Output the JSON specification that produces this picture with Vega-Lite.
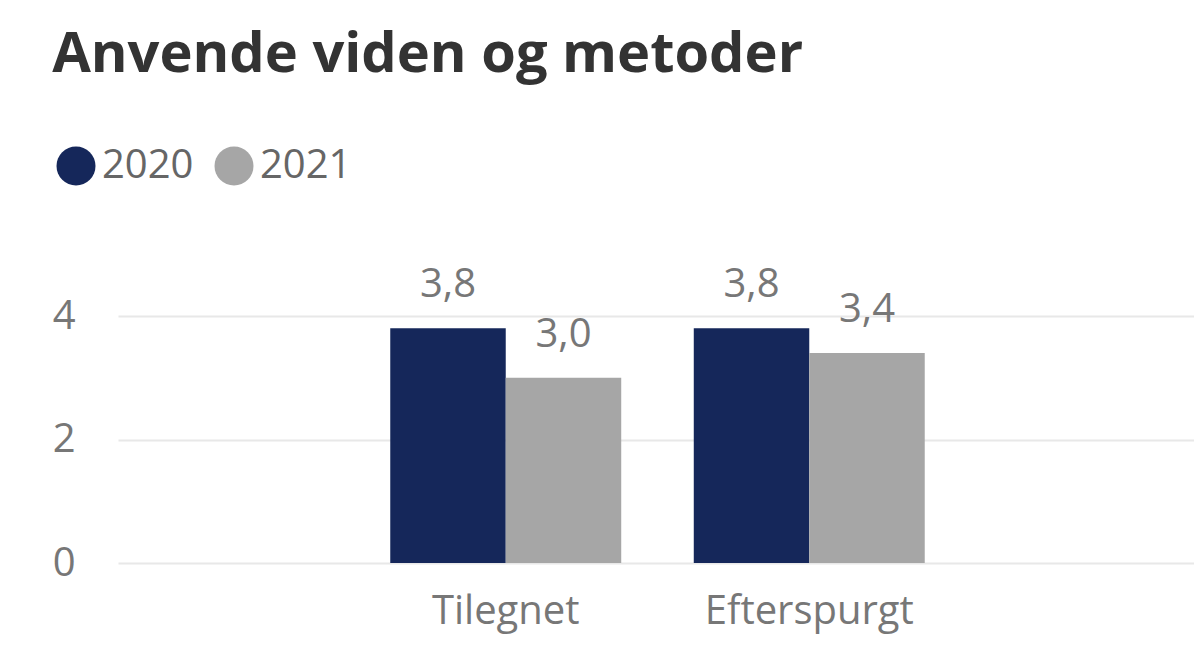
{
  "$schema": "https://vega.github.io/schema/vega-lite/v6.json",
  "width": 1079,
  "height": 247,
  "padding": {"left": 52, "top": 27, "right": 0, "bottom": 20},
  "background": "white",
  "title": {
    "text": "Anvende viden og metoder",
    "anchor": "start",
    "frame": "bounds",
    "font": "Open Sans",
    "fontSize": 56,
    "fontWeight": "bold",
    "color": "#333333",
    "offset": 62
  },
  "data": {
    "values": [
      {"kategori": "Tilegnet", "aar": "2020", "score": 3.8},
      {"kategori": "Tilegnet", "aar": "2021", "score": 3.0},
      {"kategori": "Efterspurgt", "aar": "2020", "score": 3.8},
      {"kategori": "Efterspurgt", "aar": "2021", "score": 3.4}
    ]
  },
  "encoding": {
    "x": {
      "field": "kategori",
      "type": "nominal",
      "sort": ["Tilegnet", "Efterspurgt"],
      "scale": {"paddingInner": 0.239, "paddingOuter": 0.897},
      "axis": {
        "title": null,
        "labelAngle": 0,
        "domain": false,
        "ticks": false,
        "labelFont": "Open Sans",
        "labelFontSize": 40,
        "labelColor": "#777777",
        "labelPadding": 28,
        "labelLimit": 0
      }
    },
    "xOffset": {"field": "aar", "type": "nominal", "sort": ["2020", "2021"]},
    "y": {
      "field": "score",
      "type": "quantitative",
      "scale": {"domain": [0, 4], "nice": false},
      "axis": {
        "title": null,
        "values": [0, 2, 4],
        "domain": false,
        "ticks": false,
        "labelFont": "Open Sans",
        "labelFontSize": 40,
        "labelColor": "#777777",
        "labelPadding": 43,
        "gridColor": "#E8E8E8",
        "gridWidth": 2
      }
    }
  },
  "layer": [
    {
      "mark": {"type": "bar"},
      "encoding": {
        "color": {
          "field": "aar",
          "type": "nominal",
          "scale": {"domain": ["2020", "2021"], "range": ["#15275A", "#A6A6A6"]},
          "legend": {
            "title": null,
            "orient": "none",
            "direction": "horizontal",
            "legendX": -62,
            "legendY": -170,
            "symbolType": "circle",
            "symbolSize": 1521,
            "symbolStrokeWidth": 0,
            "labelFont": "Open Sans",
            "labelFontSize": 40,
            "labelColor": "#666666",
            "labelOffset": 6,
            "columnPadding": 20
          }
        }
      }
    },
    {
      "mark": {
        "type": "text",
        "baseline": "alphabetic",
        "dy": -31,
        "font": "Open Sans",
        "fontSize": 40,
        "color": "#777777"
      },
      "encoding": {
        "text": {"field": "score", "type": "quantitative", "format": ".1f"}
      }
    }
  ],
  "config": {
    "view": {"stroke": null},
    "locale": {
      "number": {"decimal": ",", "thousands": ".", "grouping": [3], "currency": ["", " kr."]}
    }
  }
}
